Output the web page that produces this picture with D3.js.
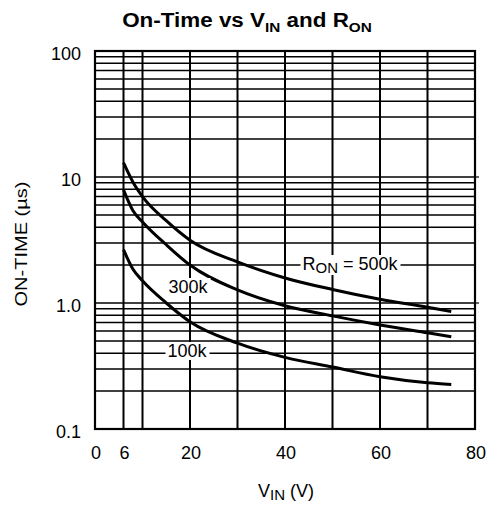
<!DOCTYPE html>
<html>
<head>
<meta charset="utf-8">
<script src="https://cdn.jsdelivr.net/npm/d3@7"></script>
<style>
  body { margin: 0; background: #fff; }
  svg { display: block; font-family: "Liberation Sans", Arial, Helvetica, sans-serif; }
</style>
</head>
<body>
<svg id="chart" width="493" height="506"></svg>
<script>
// Input voltage samples (V)
const vin = [6, 8, 10, 15, 20, 30, 40, 50, 60, 70, 75];
// On-time (µs) for each R_ON value
const ton500k = [13, 9.1, 7.0, 4.5, 3.15, 2.12, 1.58, 1.28, 1.07, 0.925, 0.855];
const ton300k = [7.9, 5.4, 4.4, 2.9, 2.0, 1.27, 0.95, 0.79, 0.67, 0.58, 0.54];
const ton100k = [2.65, 1.85, 1.5, 1.0, 0.71, 0.48, 0.37, 0.31, 0.26, 0.233, 0.226];

// Axis ticks
const xTickValues = [0, 6, 20, 40, 60, 80];
const xGridValues = [6, 10, 20, 30, 40, 50, 60, 70];
const yTickValues = [0.1, 1, 10, 100];
const yTickLabels = ["0.1", "1.0", "10", "100"];

const svg = d3.select("#chart");
const plotL = 95, plotR = 475, plotT = 51, plotB = 429;

const x = d3.scaleLinear().domain([0, 80]).range([plotL, plotR]);
const y = d3.scaleLog().domain([0.1, 100]).range([plotB, plotT]);

// Horizontal grid: every 1..9 step of each decade
const yGrid = [];
[0.1, 1, 10].forEach(d => { for (let k = 1; k <= 9; k++) yGrid.push(d * k); });

const grid = svg.append("g");
grid.selectAll("line.h").data(yGrid).join("line")
  .attr("x1", plotL).attr("x2", plotR)
  .attr("y1", d => y(d)).attr("y2", d => y(d))
  .attr("stroke", "#000").attr("stroke-width", 1.5);
grid.selectAll("line.v").data(xGridValues).join("line")
  .attr("x1", d => x(d)).attr("x2", d => x(d))
  .attr("y1", plotT).attr("y2", plotB)
  .attr("stroke", "#000").attr("stroke-width", 2);

// short outside marks at decade lines on the right edge
svg.selectAll("line.rt").data([1, 10]).join("line")
  .attr("x1", plotR).attr("x2", plotR + 4)
  .attr("y1", d => y(d)).attr("y2", d => y(d))
  .attr("stroke", "#000").attr("stroke-width", 1.2);

// Plot frame
svg.append("rect")
  .attr("x", plotL).attr("y", plotT)
  .attr("width", plotR - plotL).attr("height", plotB - plotT)
  .attr("fill", "none").attr("stroke", "#000").attr("stroke-width", 2.2);

// Curves
const line = d3.line()
  .x((d, i) => x(vin[i]))
  .y(d => y(d))
  .curve(d3.curveMonotoneX);

[ton500k, ton300k, ton100k].forEach(s => {
  svg.append("path")
    .attr("d", line(s))
    .attr("fill", "none")
    .attr("stroke", "#000")
    .attr("stroke-width", 3)
    .attr("stroke-linecap", "butt");
});

// In-plot labels with white backing
function label(tx, ty, parts) {
  const g = svg.append("g");
  const bg = g.append("rect").attr("fill", "#fff");
  const t = g.append("text").attr("x", tx).attr("y", ty)
    .attr("font-size", 18).attr("text-anchor", "middle");
  parts.forEach(p => {
    const ts = t.append("tspan").text(p.t);
    if (p.sub) ts.attr("font-size", 15).attr("dy", 3);
    if (p.back) ts.attr("dy", -3);
  });
  const b = t.node().getBBox();
  bg.attr("x", b.x - 2).attr("y", b.y + 1)
    .attr("width", b.width + 4).attr("height", b.height - 2);
}
label(350, 270, [{t: "R"}, {t: "ON", sub: true}, {t: " = 500k", back: true}]);
label(188, 293, [{t: "300k"}]);
label(187, 357, [{t: "100k"}]);

// Y tick labels
svg.selectAll("text.yt").data(yTickValues).join("text")
  .attr("x", 81).attr("y", d => y(d) + 9)
  .attr("text-anchor", "end").attr("font-size", 18)
  .text((d, i) => yTickLabels[i]);

// X tick labels
svg.selectAll("text.xt").data(xTickValues).join("text")
  .attr("x", d => x(d) + 1).attr("y", 459)
  .attr("text-anchor", "middle").attr("font-size", 18)
  .text(d => d);

// Axis titles
const xt = svg.append("text").attr("x", 286).attr("y", 497)
  .attr("text-anchor", "middle").attr("font-size", 18);
xt.append("tspan").text("V");
xt.append("tspan").text("IN").attr("font-size", 15).attr("dy", 3);
xt.append("tspan").text(" (V)").attr("dy", -3);

svg.append("text")
  .attr("transform", "translate(27,244) rotate(-90)")
  .attr("text-anchor", "middle").attr("font-size", 17)
  .attr("textLength", 125).attr("lengthAdjust", "spacingAndGlyphs")
  .text("ON-TIME (µs)");

// Title (slightly widened)
const title = svg.append("text")
  .attr("transform", "translate(247,27) scale(1.18,1.04)")
  .attr("text-anchor", "middle").attr("font-size", 19).attr("font-weight", "bold");
title.append("tspan").text("On-Time vs V");
title.append("tspan").text("IN").attr("font-size", 13).attr("dy", 5);
title.append("tspan").text(" and R").attr("dy", -5);
title.append("tspan").text("ON").attr("font-size", 13).attr("dy", 5);
</script>
</body>
</html>
